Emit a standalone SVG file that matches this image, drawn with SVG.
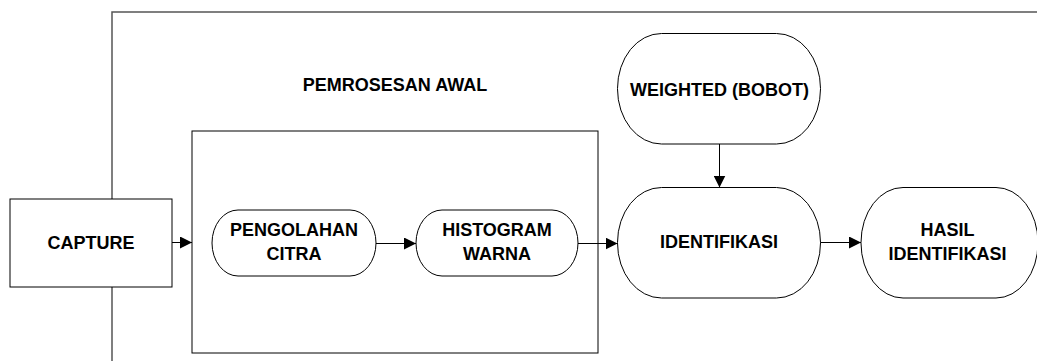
<svg xmlns="http://www.w3.org/2000/svg" width="1037" height="361" viewBox="0 0 1037 361">
<style>
.shape{fill:#fff;stroke:#000;stroke-width:1}
.frame{fill:none;stroke:#555;stroke-width:1.5}
.conn{fill:none;stroke:#000;stroke-width:1}
text{font-family:"Liberation Sans",Arial,sans-serif;font-weight:bold;font-size:18px;fill:#000;text-anchor:middle}
</style>
<defs>
<marker id="arr" viewBox="0 0 12 12" refX="12" refY="6" markerWidth="12" markerHeight="12" markerUnits="userSpaceOnUse" orient="auto">
<path d="M0,0 L12,6 L0,12 Z" fill="#000"/>
</marker>
</defs>
<g id="frame">
<path class="frame" d="M112,361 V12 H1037"/>
<text x="395" y="91">PEMROSESAN AWAL</text>
</g>
<g id="pemrosesan">
<rect class="shape" x="192" y="131" width="406" height="222"/>
</g>
<g id="capture">
<rect class="shape" x="10" y="199" width="162" height="88"/>
<text x="91" y="249">CAPTURE</text>
</g>
<g id="pengolahan">
<rect class="shape" x="212" y="210" width="164" height="66" rx="26" ry="33"/>
<text x="294" y="236">PENGOLAHAN</text>
<text x="294" y="260">CITRA</text>
</g>
<g id="histogram">
<rect class="shape" x="416" y="210" width="162" height="66" rx="26" ry="33"/>
<text x="497" y="236">HISTOGRAM</text>
<text x="497" y="260">WARNA</text>
</g>
<g id="weighted">
<rect class="shape" x="617.5" y="33.5" width="203" height="110.5" rx="44" ry="55"/>
<text x="719.5" y="96">WEIGHTED (BOBOT)</text>
</g>
<g id="identifikasi">
<rect class="shape" x="617.5" y="187.5" width="203" height="110.5" rx="44" ry="55"/>
<text x="719" y="248">IDENTIFIKASI</text>
</g>
<g id="hasil">
<rect class="shape" x="861" y="187.5" width="177" height="110.5" rx="42" ry="55"/>
<text x="947.5" y="236">HASIL</text>
<text x="947.5" y="260">IDENTIFIKASI</text>
</g>
<g id="connectors">
<path class="conn" d="M172,242.5 H192" marker-end="url(#arr)"/>
<path class="conn" d="M376,243.5 H416" marker-end="url(#arr)"/>
<path class="conn" d="M578,243.5 H617.5" marker-end="url(#arr)"/>
<path class="conn" d="M719.5,144 V187.5" marker-end="url(#arr)"/>
<path class="conn" d="M820.5,242.5 H861" marker-end="url(#arr)"/>
</g>
</svg>
